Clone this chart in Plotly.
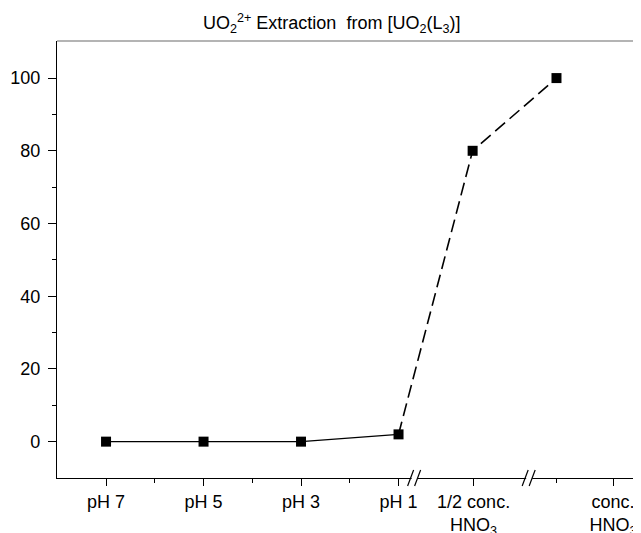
import plotly.graph_objects as go

# ---- data ----
categories = ["pH 7", "pH 5", "pH 3", "pH 1",
              "1/2 conc.<br>HNO<sub>3</sub>", "conc.<br>HNO<sub>3</sub>"]
tick_positions = [0, 1, 2, 3, 3.77, 5.2]
point_positions = [0, 1, 2, 3, 3.76, 4.62]
extraction = [0, 0, 0, 2, 80, 100]
minor_x_ticks = [0.5, 1.5, 2.5, 4.62]
break_positions = [3.165, 4.34]
y_ticks = [0, 20, 40, 60, 80, 100]
y_minor_ticks = [10, 30, 50, 70, 90]

FONT = "Arial, Liberation Sans, sans-serif"

fig = go.Figure()

# solid part (pH 7 .. pH 1)
fig.add_trace(go.Scatter(
    x=point_positions[:4], y=extraction[:4], mode="lines",
    line=dict(color="black", width=1.2), showlegend=False, hoverinfo="skip"))
# dashed part (pH 1 .. conc.)
fig.add_trace(go.Scatter(
    x=point_positions[3:], y=extraction[3:], mode="lines",
    line=dict(color="black", width=1.6, dash="13px,6px"), showlegend=False, hoverinfo="skip"))
# markers
fig.add_trace(go.Scatter(
    x=point_positions, y=extraction, mode="markers",
    marker=dict(symbol="square", size=10, color="black", line=dict(width=0)),
    showlegend=False))

shapes = []
# grey top frame line
shapes.append(dict(type="line", xref="paper", yref="paper", x0=0, x1=1, y0=1, y1=1,
                   line=dict(color="#b4b4b4", width=2), layer="above"))
# axis breaks
for bp in break_positions:
    shapes.append(dict(type="rect", xref="x", yref="paper", xsizemode="pixel", ysizemode="pixel",
                       xanchor=bp, yanchor=0, x0=-3, x1=3, y0=-2, y1=2,
                       fillcolor="white", line=dict(width=0), layer="above"))
    for off in (-4, 3):
        shapes.append(dict(type="line", xref="x", yref="paper", xsizemode="pixel", ysizemode="pixel",
                           xanchor=bp, yanchor=0, x0=off - 3, x1=off + 3, y0=-8, y1=8,
                           line=dict(color="black", width=1.2), layer="above"))

fig.update_layout(
    width=641, height=533,
    margin=dict(l=49, r=0, t=33, b=63),
    paper_bgcolor="white", plot_bgcolor="white",
    font=dict(family=FONT, size=18, color="black"),
    title=dict(text="UO<sub>2</sub><sup>2+</sup> Extraction\u00a0 from [UO<sub>2</sub>(L<sub>3</sub>)]",
               x=0.505, xanchor="center", y=0.972, yanchor="middle",
               font=dict(family=FONT, size=18, color="black")),
    shapes=shapes,
)

fig.update_xaxes(
    range=[-0.503, 5.569], tickmode="array", tickvals=tick_positions, ticktext=categories,
    showline=True, linecolor="black", linewidth=1.2, ticks="outside", ticklen=7,
    tickwidth=1.2, tickcolor="black", showgrid=False, zeroline=False,
    tickfont=dict(family=FONT, size=18, color="black"),
    minor=dict(tickmode="array", tickvals=minor_x_ticks, ticks="outside", ticklen=4,
               tickwidth=1.2, tickcolor="black", showgrid=False),
)
fig.update_yaxes(
    range=[-10, 110.2], tickmode="array", tickvals=y_ticks,
    showline=True, linecolor="black", linewidth=1.2, ticks="outside", ticklen=8,
    tickwidth=1.2, tickcolor="black", showgrid=False, zeroline=False,
    tickfont=dict(family=FONT, size=18, color="black"), ticklabelstandoff=4,
    minor=dict(tickmode="array", tickvals=y_minor_ticks, ticks="outside", ticklen=4,
               tickwidth=1.2, tickcolor="black", showgrid=False),
)

fig.write_html("out.html")
